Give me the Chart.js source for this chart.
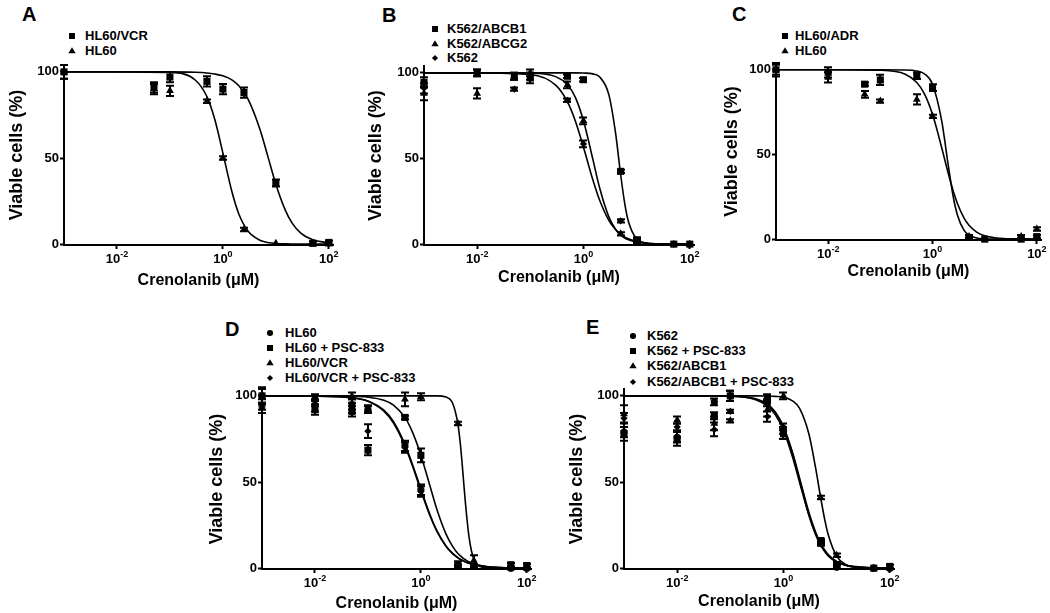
<!DOCTYPE html>
<html>
<head>
<meta charset="utf-8">
<title>Crenolanib viability</title>
<script src="https://cdn.jsdelivr.net/npm/chart.js@4.4.1/dist/chart.umd.min.js"></script>
<style>
  body { margin: 0; background: #fff; }
  #fig { position: relative; width: 1050px; height: 613px; overflow: hidden;
         font-family: "Liberation Sans", Arial, sans-serif; font-weight: bold; color: #000; }
  #fig canvas.plot { position: absolute; }
  .letter { position: absolute; font-size: 20px; line-height: 20px; }
  .leg-text { position: absolute; font-size: 13px; line-height: 14px; white-space: nowrap; }
  .leg-mark { position: absolute; }
</style>
</head>
<body>
<div id="fig"></div>
<script>
// ---- data -------------------------------------------------------------
const xTitle = 'Crenolanib (\u03BCM)';
const yTitle = 'Viable cells (%)';
const xTicks = [0.01, 1, 100];
const yTicks = [0, 50, 100];

// A
const concA = [0.001, 0.05, 0.1, 0.5, 1, 2.5, 10, 50, 100];
const hl60vcrA = [100, 91, 97, 94.5, 90, 88, 35.5, 0.5, 1];
const hl60vcrA_sd = [4, 3, 3, 3, 3, 3, 2, 1, 1];
const hl60A = [100, 90, 89, 83, 50, 8.5, 0.5, 0, 0];
const hl60A_sd = [4, 3, 3, 1, 1, 1, 0, 0, 0];
const fitXA = [0.001, 0.01, 0.1, 0.3, 0.5, 0.7, 1, 1.5, 2, 3, 5, 7, 10, 15, 20, 30, 50, 100];
const hl60vcrA_fit = [100, 100, 100, 99.8, 99.4, 98.8, 97.7, 95.2, 91.9, 84, 66.7, 51.4, 34.8, 19.9, 12.5, 6.2, 2.5, 0.7];
const hl60A_fit = [100, 100, 99.7, 95.3, 85.6, 72.6, 52.9, 29.8, 17.5, 7.5, 2.3, 1.0, 0.4, 0.2, 0.1, 0, 0, 0];

// B
const concB = [0.001, 0.01, 0.05, 0.1, 0.5, 1, 5, 10, 50, 100];
const abcb1B = [94.5, 100, 98, 97, 98, 96, 42.5, 2, 0, 0];
const abcb1B_sd = [3, 2, 2, 3, 1, 1, 1, 2, 0, 0];
const abcg2B = [88, 88, 98, 100, 93, 72, 6, 2, 0, 0];
const abcg2B_sd = [4, 3, 2, 2, 2, 2, 1, 1, 0, 0];
const k562B = [91, 100, 90.5, 98, 84, 58.5, 13.6, 1, 0, 0];
const k562B_sd = [3, 2, 1, 2, 1, 2, 1, 1, 0, 0];
const fitXB = [0.001, 0.01, 0.1, 0.3, 0.5, 0.7, 1, 1.5, 2, 3, 4, 5, 6, 7, 10, 15, 20, 50, 100];
const abcb1B_fit = [100, 100, 100, 100, 100, 100, 99.9, 99.4, 97.7, 87.3, 65.2, 40.7, 23.3, 13.2, 3.0, 0.5, 0.1, 0, 0];
const abcg2B_fit = [100, 100, 99.8, 97.8, 93, 85.8, 72, 49.6, 33.2, 15.9, 8.7, 5.3, 3.5, 2.5, 1.1, 0.4, 0.2, 0, 0];
const k562B_fit = [100, 100, 99, 92.8, 83, 72, 56.6, 37.6, 25.9, 13.9, 8.6, 5.8, 4.1, 3.1, 1.6, 0.8, 0.4, 0.1, 0];

// C
const concC = [0.001, 0.01, 0.05, 0.1, 0.5, 1, 5, 10, 50, 100];
const adrC = [100, 98.5, 91.5, 94, 96.5, 89.5, 1, 0, 0, 1.5];
const adrC_sd = [3, 3, 1, 3, 2, 2, 1, 0, 0, 1];
const hl60C = [100, 95.5, 85.5, 81.5, 82.5, 72.5, 1.5, 0, 1.5, 6];
const hl60C_sd = [4, 3, 2, 1, 3, 1, 1, 0, 1, 1];
const fitXC = [0.001, 0.01, 0.1, 0.3, 0.5, 0.7, 1, 1.5, 2, 2.5, 3, 4, 5, 7, 10, 20, 50, 100];
const adrC_fit = [100, 100, 100, 99.9, 99.3, 97.6, 91.5, 69.8, 43.7, 24.9, 14.3, 5.3, 2.3, 0.7, 0.2, 0, 0, 0];
const hl60C_fit = [100, 100, 99.7, 97.4, 92.5, 85.8, 73.7, 54, 38.9, 28.3, 21.1, 12.6, 8.2, 4.2, 2, 0.5, 0.1, 0];

// D
const concD = [0.001, 0.01, 0.05, 0.1, 0.5, 1, 5, 10, 50, 100];
const hl60D = [100, 98, 95, 92, 71, 45.5, 1, 1, 0, 0];
const hl60D_sd = [5, 3, 3, 2, 3, 3, 1, 1, 0, 0];
const hl60pscD = [100, 92, 91, 68.5, 87.5, 65.5, 2, 1, 2, 1.5];
const hl60pscD_sd = [4, 3, 3, 3, 1, 4, 2, 1, 1, 1];
const vcrD = [95, 96, 100, 92.5, 98, 99.5, 84, 4.5, 0, 0];
const vcrD_sd = [3, 2, 2, 2, 4, 2, 1, 3, 0, 0];
const vcrpscD = [93, 94, 93, 79.5, 70, 44.5, 1, 1, 0, 0];
const vcrpscD_sd = [3, 3, 3, 4, 3, 3, 1, 1, 0, 0];
const fitXD = [0.001, 0.01, 0.05, 0.1, 0.2, 0.3, 0.5, 0.7, 1, 1.5, 2, 3, 4, 5, 5.5, 6, 6.5, 7, 8, 9, 10, 12, 15, 20, 50, 100];
const hl60D_fit = [100, 99.9, 98.9, 96.9, 91.2, 84.5, 71, 59, 45, 30.1, 21.5, 12.6, 8.4, 6, 5.2, 4.6, 4.1, 3.6, 3.0, 2.5, 2.1, 1.6, 1.1, 0.7, 0.2, 0.1];
const hl60pscD_fit = [100, 100, 99.8, 99.3, 97.5, 94.8, 87.5, 78.7, 65.6, 47.2, 34.2, 19.6, 12.5, 8.5, 7.3, 6.3, 5.4, 4.8, 3.7, 3.0, 2.5, 1.8, 1.2, 0.7, 0.1, 0];
const vcrD_fit = [100, 100, 100, 100, 100, 100, 100, 100, 100, 100, 100, 99.3, 95.6, 83.6, 73.5, 61, 48, 36.5, 19.5, 10.1, 5.3, 1.7, 0.4, 0.1, 0, 0];
const vcrpscD_fit = [100, 99.9, 99, 97.1, 91.7, 85.3, 71.9, 59.9, 45.9, 30.7, 21.8, 12.7, 8.4, 6.1, 5.2, 4.6, 4.1, 3.6, 2.9, 2.5, 2.1, 1.5, 1.1, 0.6, 0.2, 0.1];

// E
const concE = [0.001, 0.01, 0.05, 0.1, 0.5, 1, 5, 10, 50, 100];
const k562E = [79, 76, 96.5, 100, 96, 80, 15, 0.5, 0, 0];
const k562E_sd = [3, 3, 2, 3, 2, 2, 1, 1, 0, 0];
const k562pscE = [78, 75, 88.5, 100, 99, 78, 16, 1.5, 0, 1];
const k562pscE_sd = [4, 4, 2, 3, 2, 3, 1, 2, 0, 1];
const abcb1E = [89.5, 86, 84, 85.5, 92, 100, 41, 7.5, 0, 0];
const abcb1E_sd = [5, 2, 4, 1, 4, 2, 1, 1, 0, 0];
const abcb1pscE = [87, 82, 80.5, 91, 88, 82, 14, 1, 0, 0];
const abcb1pscE_sd = [3, 2, 4, 1, 3, 2, 1, 1, 0, 0];
const fitXE = [0.001, 0.01, 0.1, 0.3, 0.5, 0.7, 1, 1.5, 2, 3, 4, 5, 6, 7, 10, 15, 20, 50, 100];
const k562E_fit = [100, 100, 99.8, 97.8, 94.1, 89.1, 80, 64, 50, 30.8, 20, 13.8, 10, 7.5, 3.8, 1.7, 1, 0.2, 0];
const k562pscE_fit = [100, 100, 99.8, 98.2, 95, 90.5, 82.1, 66.6, 52.5, 32.5, 21.1, 14.4, 10.4, 7.8, 3.9, 1.8, 0.9, 0.1, 0];
const abcb1E_fit = [100, 100, 100, 100, 99.9, 99.7, 99.2, 97, 92.9, 78, 58.6, 41, 27.9, 19.1, 7, 2, 0.8, 0, 0];
const abcb1pscE_fit = [100, 100, 99.8, 98.3, 95.1, 90.6, 81.8, 65.8, 51.3, 31, 19.7, 13.3, 9.5, 7, 3.5, 1.5, 0.8, 0.1, 0];

// ---- layout -----------------------------------------------------------
const Y_W = 63, X_H = 46, PAD_T = 10, PAD_R = 16;
const markers = {
  square:   { pointStyle: 'rect', r: 5 },
  triangle: { pointStyle: 'triangle', r: 4.5 },
  diamond:  { pointStyle: 'rectRot', r: 3.6 },
  circle:   { pointStyle: 'circle', r: 3.6 }
};

// box = [left, right, top, bottom] of the plot area
const panels = [
  { letter: 'A', lx: 22, ly: 4.4, box: [64, 333, 65, 245], ytPad: 5.2, xtPad: 0.4,
    leg: { mx: 72, tx: 85, y0: 36, dy: 15 }, conc: concA,
    series: [
      { name: 'HL60/VCR', mk: 'square', y: hl60vcrA, sd: hl60vcrA_sd, fx: fitXA, fit: hl60vcrA_fit },
      { name: 'HL60', mk: 'triangle', y: hl60A, sd: hl60A_sd, fx: fitXA, fit: hl60A_fit }
    ] },
  { letter: 'B', lx: 382, ly: 5.4, box: [424, 694, 66, 245], ytPad: 4.2, xtPad: 3.4,
    leg: { mx: 435, tx: 447, y0: 29, dy: 14.5 }, conc: concB,
    series: [
      { name: 'K562/ABCB1', mk: 'square', y: abcb1B, sd: abcb1B_sd, fx: fitXB, fit: abcb1B_fit },
      { name: 'K562/ABCG2', mk: 'triangle', y: abcg2B, sd: abcg2B_sd, fx: fitXB, fit: abcg2B_fit },
      { name: 'K562', mk: 'diamond', y: k562B, sd: k562B_sd, fx: fitXB, fit: k562B_fit }
    ] },
  { letter: 'C', lx: 732, ly: 4.4, box: [776, 1041, 63, 240], ytPad: 8.2, xtPad: 4.4,
    leg: { mx: 785, tx: 795, y0: 36, dy: 15 }, conc: concC,
    series: [
      { name: 'HL60/ADR', mk: 'square', y: adrC, sd: adrC_sd, fx: fitXC, fit: adrC_fit },
      { name: 'HL60', mk: 'triangle', y: hl60C, sd: hl60C_sd, fx: fitXC, fit: hl60C_fit }
    ] },
  { letter: 'D', lx: 225, ly: 319.4, box: [262, 531, 389, 569], ytPad: 7.2, xtPad: 1.4,
    leg: { mx: 270, tx: 285, y0: 333, dy: 15 }, conc: concD,
    series: [
      { name: 'HL60', mk: 'circle', y: hl60D, sd: hl60D_sd, fx: fitXD, fit: hl60D_fit },
      { name: 'HL60 + PSC-833', mk: 'square', y: hl60pscD, sd: hl60pscD_sd, fx: fitXD, fit: hl60pscD_fit },
      { name: 'HL60/VCR', mk: 'triangle', y: vcrD, sd: vcrD_sd, fx: fitXD, fit: vcrD_fit },
      { name: 'HL60/VCR + PSC-833', mk: 'diamond', y: vcrpscD, sd: vcrpscD_sd, fx: fitXD, fit: vcrpscD_fit }
    ] },
  { letter: 'E', lx: 586, ly: 317.4, box: [624, 894, 389, 569], ytPad: 5.2, xtPad: 3.4,
    leg: { mx: 633, tx: 647, y0: 336, dy: 15.2 }, conc: concE,
    series: [
      { name: 'K562', mk: 'circle', y: k562E, sd: k562E_sd, fx: fitXE, fit: k562E_fit },
      { name: 'K562 + PSC-833', mk: 'square', y: k562pscE, sd: k562pscE_sd, fx: fitXE, fit: k562pscE_fit },
      { name: 'K562/ABCB1', mk: 'triangle', y: abcb1E, sd: abcb1E_sd, fx: fitXE, fit: abcb1E_fit },
      { name: 'K562/ABCB1 + PSC-833', mk: 'diamond', y: abcb1pscE, sd: abcb1pscE_sd, fx: fitXE, fit: abcb1pscE_fit }
    ] }
];

// ---- plugins ----------------------------------------------------------
const errorBars = {
  id: 'errorBars',
  afterDatasetsDraw(chart) {
    const ctx = chart.ctx, xs = chart.scales.x, ys = chart.scales.y;
    ctx.save();
    ctx.strokeStyle = '#000';
    ctx.lineWidth = 2;
    chart.data.datasets.forEach(ds => {
      if (!ds.err) return;
      ds.data.forEach((p, i) => {
        const e = ds.err[i];
        if (!e) return;
        const x = Math.round(xs.getPixelForValue(p.x));
        const y1 = ys.getPixelForValue(p.y + e), y2 = ys.getPixelForValue(p.y - e);
        ctx.beginPath();
        ctx.moveTo(x, y1); ctx.lineTo(x, y2);
        ctx.moveTo(x - 4, y1); ctx.lineTo(x + 4, y1);
        ctx.moveTo(x - 4, y2); ctx.lineTo(x + 4, y2);
        ctx.stroke();
      });
    });
    ctx.restore();
  }
};

// x tick labels as 10 with a raised exponent
const logLabels = {
  id: 'logLabels',
  afterDraw(chart) {
    const xs = chart.scales.x, ctx = chart.ctx;
    ctx.save();
    ctx.fillStyle = '#000';
    ctx.textBaseline = 'alphabetic';
    ctx.textAlign = 'left';
    xs.ticks.forEach(t => {
      const px = xs.getPixelForValue(t.value);
      const exp = String(Math.round(Math.log10(t.value)));
      ctx.font = 'bold 13px "Liberation Sans", Arial, sans-serif';
      const w1 = ctx.measureText('10').width;
      ctx.font = 'bold 9px "Liberation Sans", Arial, sans-serif';
      const w2 = ctx.measureText(exp).width;
      const x0 = px - (w1 + w2) / 2;
      const base = xs.top + 18;
      ctx.font = 'bold 13px "Liberation Sans", Arial, sans-serif';
      ctx.fillText('10', x0, base);
      ctx.font = 'bold 9px "Liberation Sans", Arial, sans-serif';
      ctx.fillText(exp, x0 + w1, base - 6);
    });
    ctx.restore();
  }
};

function drawMarker(ctx, mk, x, y, r) {
  ctx.beginPath();
  if (mk === 'square') {
    const s = r * Math.SQRT1_2;
    ctx.rect(x - s, y - s, 2 * s, 2 * s);
  } else if (mk === 'triangle') {
    ctx.moveTo(x, y - r);
    ctx.lineTo(x + r * 0.95, y + r * 0.6);
    ctx.lineTo(x - r * 0.95, y + r * 0.6);
    ctx.closePath();
  } else if (mk === 'diamond') {
    ctx.moveTo(x, y - r); ctx.lineTo(x + r, y); ctx.lineTo(x, y + r); ctx.lineTo(x - r, y);
    ctx.closePath();
  } else {
    ctx.arc(x, y, r, 0, Math.PI * 2);
  }
  ctx.fill();
}

Chart.defaults.font.family = '"Liberation Sans", Arial, sans-serif';
Chart.defaults.color = '#000';

const fig = document.getElementById('fig');

function axisCommon() {
  return {
    grid: { drawOnChartArea: false, drawTicks: true, tickLength: 4, tickWidth: 2, tickColor: '#000' },
    border: { display: true, color: '#000', width: 2 }
  };
}

panels.forEach(p => {
  const [L, R, T, B] = p.box;
  const W = R - L + Y_W + PAD_R, H = B - T + PAD_T + X_H;

  // panel letter
  const lt = document.createElement('div');
  lt.className = 'letter';
  lt.textContent = p.letter;
  lt.style.left = p.lx + 'px';
  lt.style.top = p.ly + 'px';
  fig.appendChild(lt);

  // legend
  p.series.forEach((s, i) => {
    const yc = p.leg.y0 + i * p.leg.dy;
    const mc = document.createElement('canvas');
    mc.className = 'leg-mark';
    mc.width = 12; mc.height = 12;
    mc.style.left = (p.leg.mx - 6) + 'px';
    mc.style.top = (Math.round(yc) - 6) + 'px';
    const mctx = mc.getContext('2d');
    mctx.fillStyle = '#000';
    drawMarker(mctx, s.mk, 6, 6, markers[s.mk].r * 0.85);
    fig.appendChild(mc);
    const tx = document.createElement('div');
    tx.className = 'leg-text';
    tx.textContent = s.name;
    tx.style.left = p.leg.tx + 'px';
    tx.style.top = (yc - 7) + 'px';
    fig.appendChild(tx);
  });

  // chart
  const cv = document.createElement('canvas');
  cv.className = 'plot';
  cv.width = W; cv.height = H;
  cv.style.left = (L - Y_W) + 'px';
  cv.style.top = (T - PAD_T) + 'px';
  fig.appendChild(cv);

  const datasets = [];
  p.series.forEach(s => {
    datasets.push({
      type: 'line',
      data: s.fx.map((x, i) => ({ x: x, y: s.fit[i] })),
      borderColor: '#000', borderWidth: 1.6, pointRadius: 0,
      cubicInterpolationMode: 'monotone', fill: false, clip: false, order: 2
    });
    datasets.push({
      type: 'scatter',
      label: s.name,
      data: p.conc.map((x, i) => ({ x: x, y: s.y[i] })),
      err: s.sd,
      pointStyle: markers[s.mk].pointStyle,
      pointRadius: markers[s.mk].r,
      backgroundColor: '#000', borderColor: '#000', borderWidth: 0,
      clip: false, order: 1
    });
  });

  new Chart(cv, {
    data: { datasets: datasets },
    options: {
      responsive: false,
      animation: false,
      devicePixelRatio: 1,
      layout: { padding: { left: 0, top: PAD_T, right: PAD_R, bottom: 0 } },
      plugins: { legend: { display: false }, tooltip: { enabled: false } },
      scales: {
        x: Object.assign(axisCommon(), {
          type: 'logarithmic', position: 'bottom', min: 0.001, max: 120,
          afterBuildTicks: s => { s.ticks = xTicks.map(v => ({ value: v })); },
          afterFit: s => { s.height = X_H; },
          ticks: { display: false },
          title: { display: true, text: xTitle, color: '#000',
                   font: { size: 16, weight: 'bold' }, padding: { top: 0, bottom: p.xtPad } }
        }),
        y: Object.assign(axisCommon(), {
          type: 'linear', position: 'left', min: -0.5, max: 104,
          afterBuildTicks: s => { s.ticks = yTicks.map(v => ({ value: v })); },
          afterFit: s => { s.width = Y_W; },
          ticks: { font: { size: 13, weight: 'bold' }, color: '#000', padding: 1 },
          title: { display: true, text: yTitle, color: '#000',
                   font: { size: 18, weight: 'bold' }, padding: { top: p.ytPad, bottom: 0 } }
        })
      }
    },
    plugins: [errorBars, logLabels]
  });
});
</script>
</body>
</html>
